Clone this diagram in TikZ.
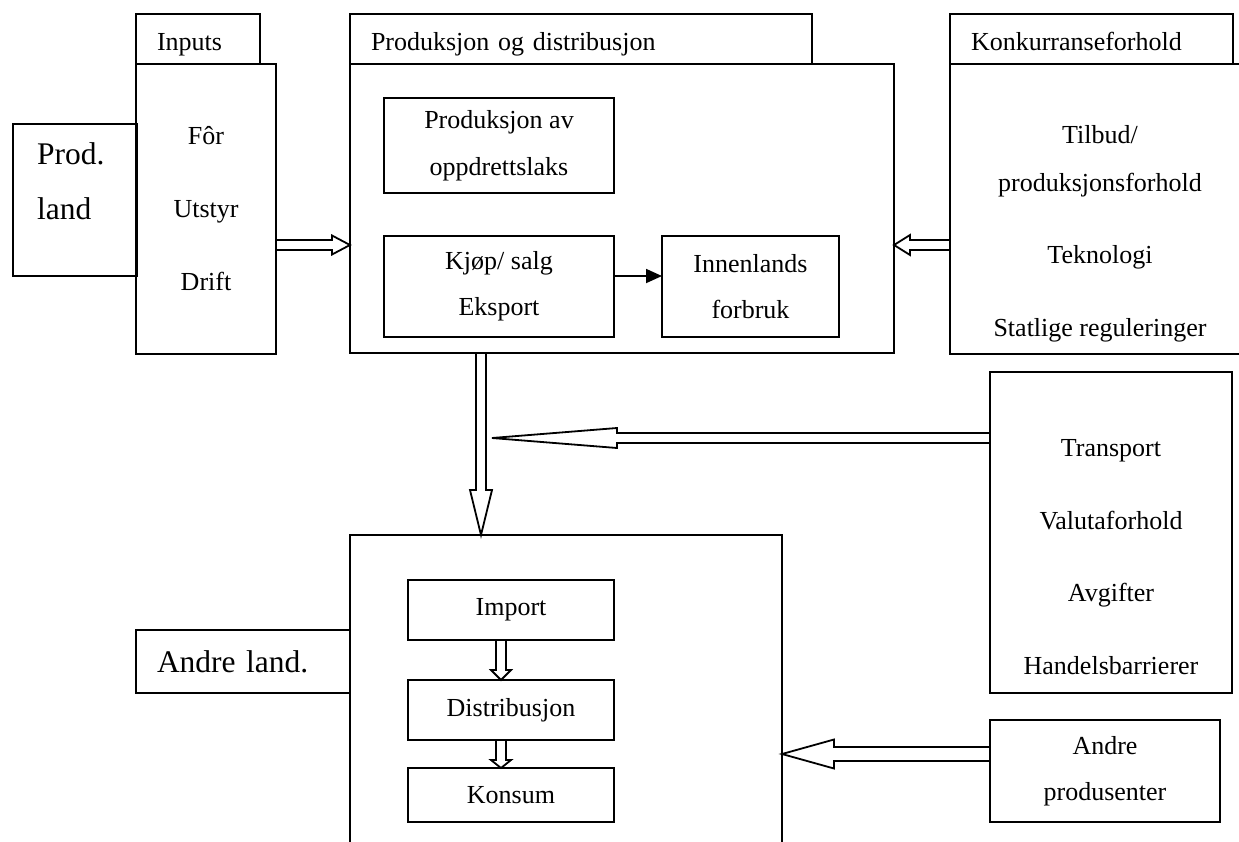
\documentclass[tikz,border=0pt]{standalone}
\usepackage{fontspec}
\setmainfont{Liberation Serif}
\usetikzlibrary{calc,arrows.meta}

\newcommand{\blockarrow}[5]{%
  \coordinate (head) at ($(#2)!#5!(#1)$);
  \draw[hollow] ($(#1)!#3!90:(#2)$) -- ($(head)!#3!90:(#2)$) -- ($(head)!#4!90:(#2)$) -- (#2)
    -- ($(head)!#4!-90:(#2)$) -- ($(head)!#3!-90:(#2)$) -- ($(#1)!#3!-90:(#2)$);
}

\begin{document}
\begin{tikzpicture}[x=1pt, y=-1pt, line width=1.8pt]
      \tikzset{box/.style={draw, anchor=north west, inner sep=0pt, outer sep=0pt, align=center, font=\fontsize{26}{31}\selectfont},
               tab/.style={box, minimum height=50pt, inner xsep=21pt, align=left},
               toptab/.style={tab, text height=24pt, text depth=2pt},
               words/.style={align=center, font=\fontsize{26}{31}\selectfont},
               hollow/.style={draw, line join=miter}}

      \useasboundingbox (0,0) rectangle (1239,841);
      \clip (0,0) rectangle (1239,841);

      \node[box, minimum width=124pt, minimum height=152pt] (prodland) at (13,124) {};
      \node[words, anchor=west, align=left, font=\fontsize{31.5}{38}\selectfont] (prodlandtxt) at (33,181) {Prod.\\[17pt]land};

      \node[toptab, text width=82pt] (intab) at (136,14) {Inputs};
      \node[box, minimum width=140pt, minimum height=290pt] (inbody) at (136,64) {Fôr\\[42pt]Utstyr\\[42pt]Drift};

      \node[toptab, text width=420pt] (prodtab) at (350,14) {Produksjon og distribusjon};
      \node[box, minimum width=544pt, minimum height=289pt] (prodbody) at (350,64) {};
      \node[box, minimum width=230pt, minimum height=95pt] (prodav) at (384,98) {Produksjon av\\[16pt]oppdrettslaks};
      \node[box, minimum width=230pt, minimum height=101pt] (kjop) at (384,236) {Kjøp/ salg\\[15pt]Eksport};
      \node[box, minimum width=177pt, minimum height=101pt] (innen) at (662,236) {Innenlands\\[15pt]forbruk};

      \node[toptab, text width=241pt] (konktab) at (950,14) {Konkurranseforhold};
      \node[box, minimum width=300pt, minimum height=290pt] (konkbody) at (950,64) {};
      \node[words] (konktxt) at (1100,234) {Tilbud/\\[17pt]produksjonsforhold\\[41pt]Teknologi\\[42pt]Statlige reguleringer};

      \node[box, minimum width=242pt, minimum height=321pt] (transp) at (990,372) {};
      \node[words] (transptxt) at (1111,557) {Transport\\[42pt]Valutaforhold\\[41pt]Avgifter\\[42pt]Handelsbarrierer};

      \node[box, minimum width=432pt, minimum height=330pt] (andre) at (350,535) {};
      \node[tab, minimum height=63pt, text width=172pt, font=\fontsize{31.5}{38}\selectfont] (andreland) at (136,630) {Andre land.};
      \node[box, minimum width=206pt, minimum height=60pt] (import) at (408,580) {Import};
      \node[box, minimum width=206pt, minimum height=60pt] (distrib) at (408,680) {Distribusjon};
      \node[box, minimum width=206pt, minimum height=54pt] (konsum) at (408,768) {Konsum};
      \node[box, minimum width=230pt, minimum height=102pt] (andreprod) at (990,720) {Andre\\[15pt]produsenter};

      \coordinate (inout) at (inbody.east |- 0,245);
      \coordinate (prodin) at (prodbody.west |- 0,245);
      \coordinate (konkout) at (konkbody.west |- 0,245);
      \coordinate (prodinr) at (prodbody.east |- 0,245);
      \coordinate (prodout) at (prodbody.south -| 481,0);
      \coordinate (andrein) at (andre.north -| 481,0);
      \coordinate (transpout) at (transp.west |- 0,438);
      \coordinate (transptip) at (492,438);
      \coordinate (importout) at (import.south -| 501,0);
      \coordinate (distribin) at (distrib.north -| 501,0);
      \coordinate (distribout) at (distrib.south -| 501,0);
      \coordinate (konsumin) at (konsum.north -| 501,0);
      \coordinate (andreprodout) at (andreprod.west |- 0,754);
      \coordinate (andreinr) at (andre.east |- 0,754);

      \draw[-{Triangle[length=16pt, width=14pt]}] (kjop.east |- 0,276) -- (innen.west |- 0,276);

      \blockarrow{inout}{prodin}{5pt}{9.5pt}{18pt}
      \blockarrow{konkout}{prodinr}{5pt}{10pt}{16pt}
      \blockarrow{prodout}{andrein}{5pt}{11pt}{45pt}
      \blockarrow{transpout}{transptip}{5pt}{10pt}{125pt}
      \blockarrow{importout}{distribin}{5pt}{10pt}{10pt}
      \blockarrow{distribout}{konsumin}{5pt}{10pt}{8pt}
      \blockarrow{andreprodout}{andreinr}{7pt}{14.5pt}{52pt}
\end{tikzpicture}
\end{document}
